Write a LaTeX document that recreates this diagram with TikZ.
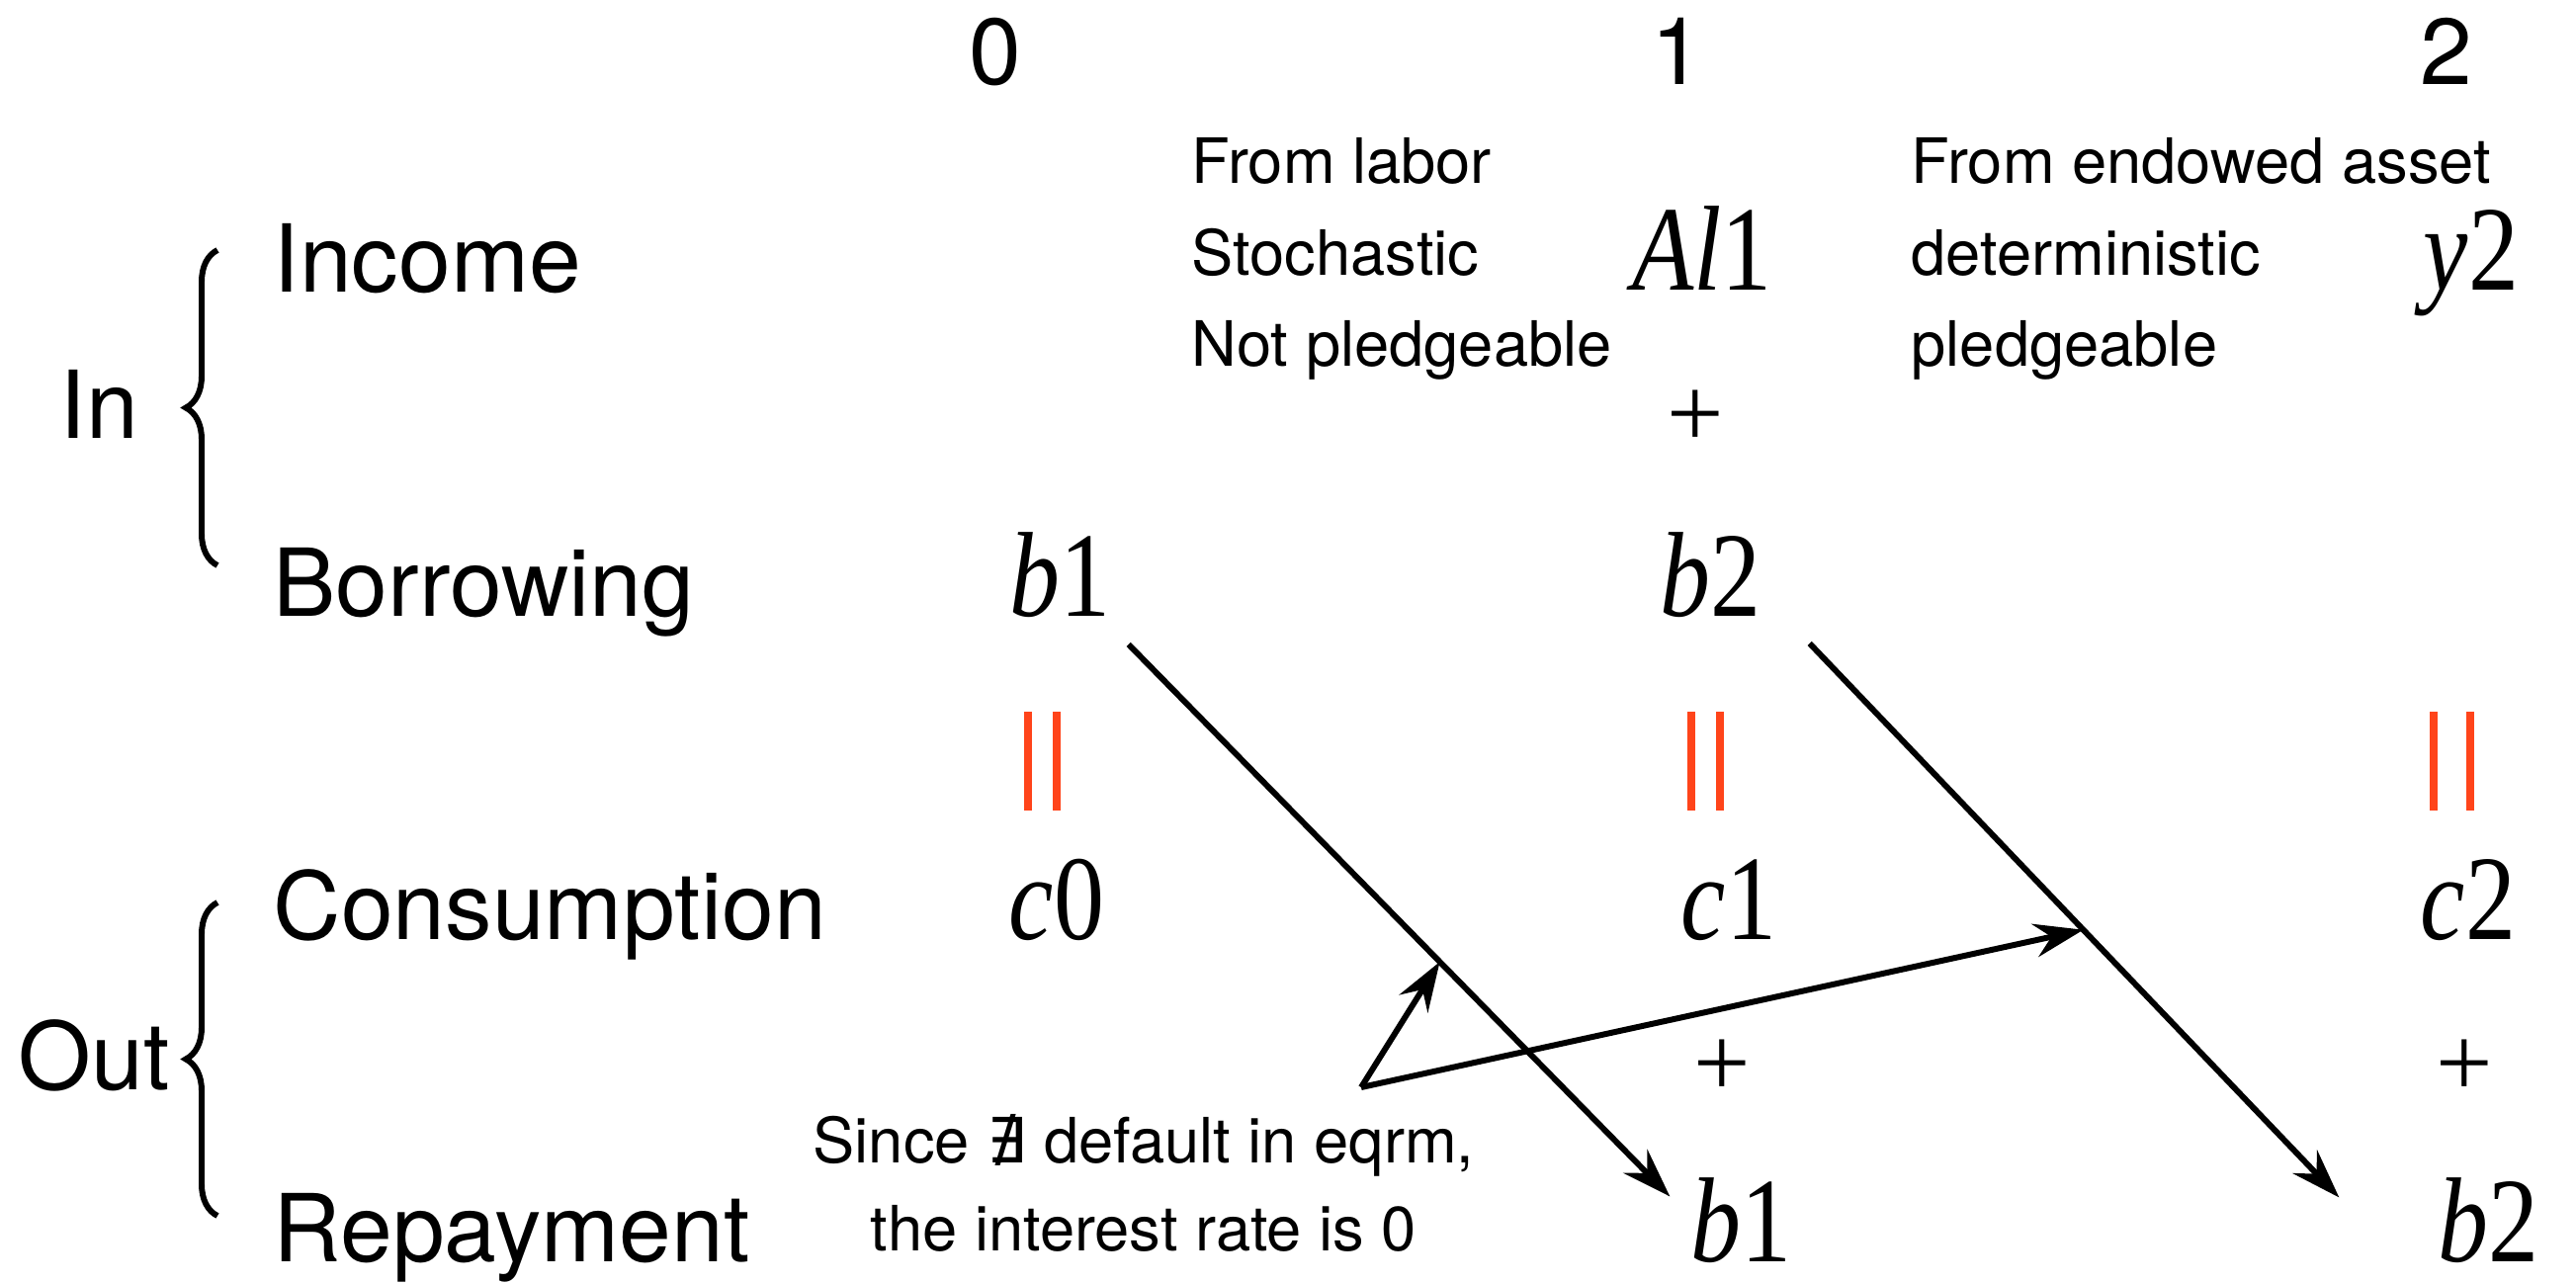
\documentclass[tikz,border=0pt]{standalone}
\usepackage{graphicx}
\usepackage{fontspec}
\setmainfont{TeX Gyre Heros}
\newfontfamily\tsr{Liberation Serif}
\newfontfamily\dvs{DejaVu Sans}
\usetikzlibrary{arrows.meta,decorations.pathreplacing}
\definecolor{eqred}{RGB}{255,68,26}
\newcommand{\tv}[2]{\scalebox{1}[1.2]{\textit{#1}#2}}

\begin{document}
\begin{tikzpicture}[
    lbl/.style={font=\fontsize{27}{27}\selectfont, inner sep=0pt, anchor=base west},
    hdr/.style={font=\fontsize{27}{27}\selectfont, inner sep=0pt, anchor=base},
    note/.style={font=\fontsize{18}{18}\selectfont, inner sep=0pt, anchor=base west},
    var/.style={font=\tsr\fontsize{29}{29}\selectfont, inner sep=0pt, anchor=base},
    flow/.style={-{Stealth[length=0.5cm,width=0.34cm,inset=0.17cm]}, line width=1.7pt},
    bar/.style={draw=eqred, line width=2.2pt},
    grp/.style={decorate, decoration={brace, amplitude=0.32cm}, line width=1.7pt}]
    \useasboundingbox (0,0) rectangle (26.06,-12.98);

    % periods
    \node[hdr] (t0) at (10.07,-0.85) {0};
    \node[hdr] (t1) at (16.97,-0.85) {1};
    \node[hdr] (t2) at (24.75,-0.85) {2};

    % rows and groups
    \node[lbl] (income) at (2.76,-2.95) {Income};
    \node[lbl] (borrow) at (2.76,-6.23) {Borrowing};
    \node[lbl] (consum) at (2.76,-9.50) {Consumption};
    \node[lbl] (repay) at (2.76,-12.76) {Repayment};
    \node[lbl] (in) at (0.60,-4.43) {In};
    \node[lbl] (out) at (0.18,-11.02) {Out};
    \draw[grp] (2.20,-5.72) -- (2.20,-2.53);
    \draw[grp] (2.20,-12.30) -- (2.20,-9.13);

    % notes on income
    \node[note] (lab1) at (12.05,-1.85) {From labor};
    \node[note] (lab2) at (12.05,-2.78) {Stochastic};
    \node[note] (lab3) at (12.05,-3.70) {Not pledgeable};
    \node[note] (end1) at (19.33,-1.85) {From endowed asset};
    \node[note] (end2) at (19.33,-2.78) {deterministic};
    \node[note] (end3) at (19.33,-3.70) {pledgeable};

    % budget entries
    \node[var] (al1) at (17.22,-2.93) {\tv{Al}{1}};
    \node[var] (y2) at (25.00,-2.93) {\tv{y}{2}};
    \node[var, anchor=center] (p1) at (17.15,-4.24) {+};
    \node[var] (bb1) at (10.72,-6.23) {\tv{b}{1}};
    \node[var] (bb2) at (17.30,-6.23) {\tv{b}{2}};
    \node[var] (c0) at (10.69,-9.50) {\tv{c}{0}};
    \node[var] (c1) at (17.49,-9.50) {\tv{c}{1}};
    \node[var] (c2) at (24.97,-9.50) {\tv{c}{2}};
    \node[var, anchor=center] (p2) at (17.42,-10.81) {+};
    \node[var, anchor=center] (p3) at (24.93,-10.81) {+};
    \node[var] (rb1) at (17.61,-12.76) {\tv{b}{1}};
    \node[var] (rb2) at (25.17,-12.76) {\tv{b}{2}};

    % equal signs
    \foreach \x in {10.40,10.69,17.11,17.40,24.62,24.99}
        \draw[bar] (\x,-7.20) -- (\x,-8.20);

    % repayment arrows
    \draw[flow] ([shift={(0.18,-0.27)}]bb1.south east) -- ([shift={(-0.20,-0.20)}]rb1.north west)
        coordinate[pos=0.575] (hit1);
    \draw[flow] ([shift={(0.49,-0.26)}]bb2.south east) -- ([shift={(-0.99,-0.21)}]rb2.north west)
        coordinate[pos=0.517] (hit2);

    % zero interest
    \node[note, anchor=base] (why1) at (11.57,-11.76) {Since {\dvs ∄} default in eqrm,};
    \node[note, anchor=base] (why2) at (11.57,-12.65) {the interest rate is 0};
    \coordinate (hub) at (13.77,-11.00);
    \draw[flow] (hub) -- (hit1);
    \draw[flow] (hub) -- (hit2);
\end{tikzpicture}
\end{document}
